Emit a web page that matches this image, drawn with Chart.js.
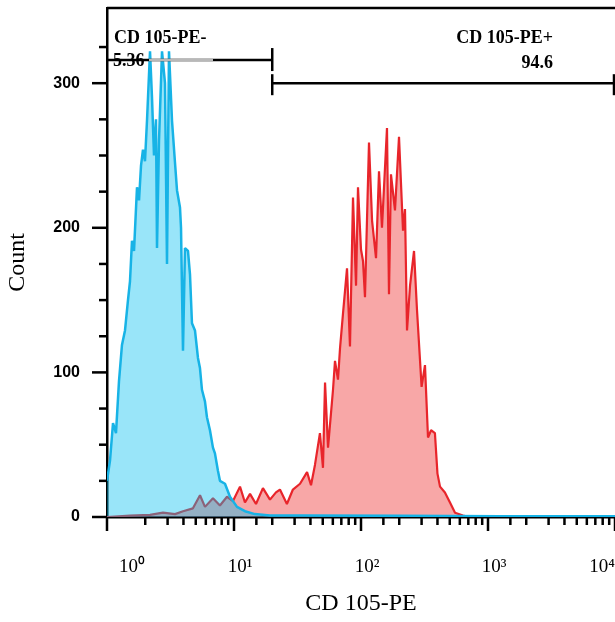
<!DOCTYPE html>
<html>
<head>
<meta charset="utf-8">
<script src="https://cdn.jsdelivr.net/npm/chart.js@4.4.1/dist/chart.umd.min.js"></script>
<style>
html, body { margin: 0; padding: 0; background: #fff; overflow: hidden; }
canvas { display: block; }
</style>
</head>
<body>
<canvas id="cd105Chart" width="640" height="622"></canvas>
<script>
/* CD 105-PE histogram: isotype (blue) vs stained (red) */

// blue histogram (control)
const blueX = [1.0, 1.056, 1.115, 1.177, 1.243, 1.312, 1.386, 1.463, 1.517, 1.573,
  1.632, 1.723, 1.787, 1.853, 1.92, 1.991, 2.065, 2.181, 2.261, 2.345,
  2.431, 2.476, 2.567, 2.711, 2.862, 2.968, 3.077, 3.25, 3.431, 3.557,
  3.756, 3.826, 3.966, 4.112, 4.341, 4.501, 4.667, 4.928, 5.202, 5.395,
  5.594, 5.906, 6.124, 6.466, 6.827, 7.079, 7.474, 7.75, 8.49, 9.3,
  10.56, 12.2, 14.6, 19.2, 33.1, 203, 1243, 10000];
const blueCounts = [25, 39, 65, 58, 94, 119, 129, 150, 163, 191,
  184, 228, 219, 243, 254, 246, 274, 322, 290, 250,
  275, 186, 260, 322, 300, 175, 322, 274, 245, 226,
  214, 200, 115, 186, 184, 168, 134, 129, 110, 103,
  88, 80, 69, 60, 48, 44, 32, 25, 23, 14,
  7, 4, 2, 1, 1, 0.8, 0.6, 0.5];

// red histogram (CD 105-PE stained)
const redX = [1.0, 1.517, 2.181, 2.76, 3.43, 3.97, 4.75, 5.40, 5.91, 6.83,
  7.75, 8.81, 9.82, 11.15, 12.2, 13.37, 14.9, 16.9, 19.2, 21.4,
  23.0, 26.1, 29.1, 33.1, 37.6, 40.4, 43.4, 47.5, 50.2, 52.1,
  55.0, 60.2, 62.4, 65.9, 68.4, 72.2, 77.6, 81.9, 86.5, 91.4,
  94.7, 100, 103.7, 107.5, 115.6, 122.2, 131.3, 138.6, 146.3, 160.2,
  166.1, 172.2, 185.2, 199.2, 214.2, 222, 230.3, 243.3, 261.5, 276.1,
  300, 319, 337, 356, 382, 400, 419, 458, 502, 550,
  635, 721, 10000];
const redCounts = [0, 1, 1.5, 3, 2, 4, 6, 15, 7, 13,
  8, 14, 11, 21, 10, 16, 9, 20, 12, 17,
  19, 9, 19, 23, 31, 22, 36, 58, 34, 93,
  48, 88, 108, 95, 117, 141, 172, 118, 221, 160,
  228, 185, 177, 152, 259, 205, 179, 239, 200, 269,
  154, 237, 212, 263, 198, 213, 129, 160, 184, 143,
  90, 105, 55, 60, 58, 30, 21, 17, 10, 3,
  1, 0, 0];

// gates
const gateNames = ['CD 105-PE-', 'CD 105-PE+'];
const gatePercents = ['5.36', '94.6'];
const gateStart = [1, 20];
const gateEnd = [20, 10000];
const gateLevel = [316, 300];

// axis ticks
const yTickLabels = [0, 100, 200, 300];
const xDecadeLabels = ['\u2003\u200310\u2070', '10\u00b9', '10\u00b2', '10\u00b3', '10\u2074\u2003\u2003'];

const toPoints = (xs, ys) => xs.map((v, i) => ({ x: v, y: ys[i] }));

const isDecade = v => { const l = Math.log10(v); return Math.abs(l - Math.round(l)) < 1e-9; };

// frame, tick marks and gate markers
const cytoDecor = {
  id: 'cytoDecor',
  afterDraw(chart) {
    const { ctx, chartArea: a, scales: { x, y } } = chart;
    ctx.save();
    ctx.strokeStyle = '#000';
    ctx.lineWidth = 2.5;
    ctx.lineCap = 'butt';
    ctx.beginPath(); ctx.moveTo(a.left, a.top); ctx.lineTo(a.right + 30, a.top); ctx.stroke();

    y.ticks.forEach(t => {
      if (t.value % 25) return;
      const py = y.getPixelForValue(t.value);
      const len = yTickLabels.includes(t.value) ? 15 : 8;
      ctx.beginPath(); ctx.moveTo(a.left, py); ctx.lineTo(a.left - len, py); ctx.stroke();
    });
    x.ticks.forEach(t => {
      const px = x.getPixelForValue(t.value);
      const len = isDecade(t.value) ? 14 : 8;
      ctx.beginPath(); ctx.moveTo(px, a.bottom); ctx.lineTo(px, a.bottom + len); ctx.stroke();
    });

    // gate bars
    ctx.font = 'bold 18px "Liberation Serif"';
    ctx.fillStyle = '#000';
    ctx.textBaseline = 'middle';
    gateNames.forEach((name, i) => {
      const x0 = x.getPixelForValue(gateStart[i]);
      const x1 = x.getPixelForValue(gateEnd[i]);
      const gy = y.getPixelForValue(gateLevel[i]);
      ctx.strokeStyle = '#000';
      ctx.beginPath(); ctx.moveTo(x0, gy); ctx.lineTo(x1, gy); ctx.stroke();
      if (i === 0) {
        // faded part of the first gate bar
        ctx.strokeStyle = '#b8b8b8';
        ctx.beginPath(); ctx.moveTo(x0 + 42, gy); ctx.lineTo(x0 + 106, gy); ctx.stroke();
        ctx.strokeStyle = '#000';
        ctx.beginPath(); ctx.moveTo(x1, gy - 12); ctx.lineTo(x1, gy + 11); ctx.stroke();
        ctx.textAlign = 'left';
        ctx.fillText(name, x0 + 7, gy - 22);
        ctx.fillText(gatePercents[i], x0 + 6, gy + 1);
      } else {
        ctx.beginPath(); ctx.moveTo(x0, gy - 9); ctx.lineTo(x0, gy + 12); ctx.stroke();
        ctx.beginPath(); ctx.moveTo(x1 - 1, gy - 9); ctx.lineTo(x1 - 1, gy + 12); ctx.stroke();
        ctx.textAlign = 'right';
        ctx.fillText(name, x1 - 62, gy - 45);
        ctx.fillText(gatePercents[i], x1 - 62, gy - 20);
      }
    });
    ctx.restore();
  }
};

const ctx = document.getElementById('cd105Chart').getContext('2d');
window.cd105Chart = new Chart(ctx, {
  type: 'line',
  data: {
    datasets: [
      { label: 'Control', data: toPoints(blueX, blueCounts),
        borderColor: '#17b3e6', backgroundColor: 'rgba(0,190,240,0.40)',
        borderWidth: 2.5, fill: 'origin', pointRadius: 0, tension: 0, borderJoinStyle: 'bevel' },
      { label: 'CD 105-PE', data: toPoints(redX, redCounts),
        borderColor: '#e8252b', backgroundColor: 'rgba(240,60,60,0.45)',
        borderWidth: 2.2, fill: 'origin', pointRadius: 0, tension: 0, borderJoinStyle: 'bevel' }
    ]
  },
  options: {
    responsive: false, animation: false,
    layout: { padding: { top: 8, right: 25, left: 0, bottom: 0 } },
    plugins: { legend: { display: false }, tooltip: { enabled: false } },
    scales: {
      x: {
        type: 'logarithmic', min: 1, max: 10000, position: 'bottom',
        grid: { display: false, drawTicks: false },
        border: { display: true, color: '#000', width: 2.5 },
        ticks: {
          autoSkip: false, maxRotation: 0, padding: 39, labelOffset: 6, color: '#000',
          font: { family: '"Liberation Serif"', size: 19 },
          callback: v => isDecade(v) ? xDecadeLabels[Math.round(Math.log10(v))] : ''
        },
        title: { display: true, text: 'CD 105-PE', color: '#000',
          font: { family: '"Liberation Serif"', size: 24 }, padding: { top: 0, bottom: 4 } },
        afterFit: s => { s.height = 105; s.paddingLeft = 0; s.paddingRight = 0; }
      },
      y: {
        min: 0, max: 352,
        grid: { display: false, drawTicks: false },
        border: { display: true, color: '#000', width: 2.5 },
        ticks: {
          stepSize: 25, padding: 27, color: '#000',
          font: { family: '"Liberation Sans"', size: 16, weight: 'bold' },
          callback: v => yTickLabels.includes(v) ? v : ''
        },
        title: { display: true, text: 'Count', color: '#000',
          font: { family: '"Liberation Serif"', size: 24 }, padding: { top: 3, bottom: 0 } },
        afterFit: s => { s.width = 107; s.paddingTop = 0; s.paddingBottom = 0; }
      }
    }
  },
  plugins: [cytoDecor]
});
</script>
</body>
</html>
